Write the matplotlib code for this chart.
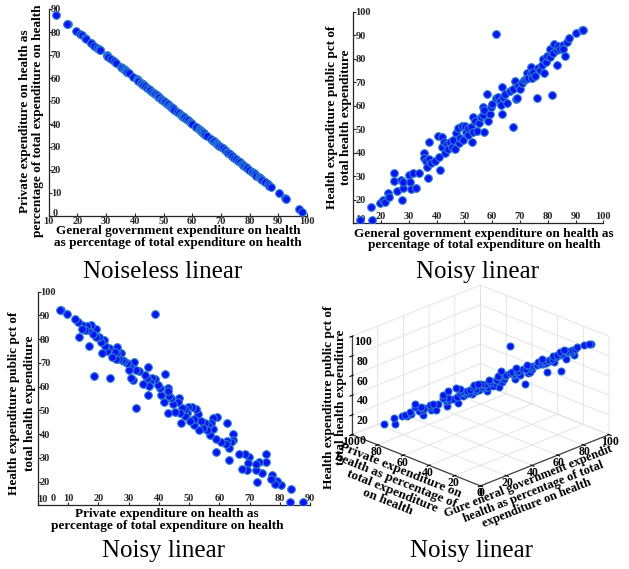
import matplotlib
matplotlib.use("Agg")
import matplotlib.pyplot as plt
from matplotlib.transforms import ScaledTranslation

# government / public health spending per country (percent of total)
gov = [12.4, 16.6, 16.4, 19.6, 20.8, 21.5, 22.6, 23.0, 24.6, 24.6,
       25.9, 27.0, 27.5, 27.8, 28.0, 30.2, 30.4, 30.8, 31.6, 32.6,
       33.5, 35.3, 35.6, 36.2, 36.7, 36.8, 37.3, 37.3, 37.9, 39.4,
       40.6, 41.0, 41.2, 42.1, 42.0, 42.7, 43.0, 43.6, 44.2, 44.8,
       45.4, 46.0, 46.6, 47.0, 47.6, 48.2, 48.4, 49.0, 49.6, 50.2,
       50.6, 51.2, 51.4, 52.3, 52.6, 53.0, 53.2, 53.8, 54.7, 55.4,
       56.0, 56.6, 56.8, 57.1, 57.1, 58.0, 58.4, 59.2, 59.5, 60.1,
       61.4, 61.4, 62.2, 62.8, 63.2, 63.5, 63.7, 64.0, 64.6, 65.2,
       66.4, 67.4, 67.6, 68.2, 68.5, 69.1, 69.4, 70.0, 70.6, 71.5,
       72.1, 72.4, 73.0, 73.9, 74.3, 73.9, 74.6, 75.4, 76.0, 76.6,
       77.2, 77.8, 78.2, 78.7, 79.2, 79.9, 80.8, 80.8, 81.4, 81.8,
       82.4, 83.2, 83.5, 83.8, 84.4, 85.4, 85.4, 86.3, 86.8, 87.6,
       90.2, 92.2, 92.8]

private = [87.6, 83.4, 83.6, 80.4, 79.2, 78.5, 77.4, 77.0, 75.4, 75.4,
           74.1, 73.0, 72.5, 72.2, 72.0, 69.8, 69.6, 69.2, 68.4, 67.4,
           66.5, 64.7, 64.4, 63.8, 63.3, 63.2, 62.7, 62.7, 62.1, 60.6,
           59.4, 59.0, 58.8, 57.9, 58.0, 57.3, 57.0, 56.4, 55.8, 55.2,
           54.6, 54.0, 53.4, 53.0, 52.4, 51.8, 51.6, 51.0, 50.4, 49.8,
           49.4, 48.8, 48.6, 47.7, 47.4, 47.0, 46.8, 46.2, 45.3, 44.6,
           44.0, 43.4, 43.2, 42.9, 42.9, 42.0, 41.6, 40.8, 40.5, 39.9,
           38.6, 38.6, 37.8, 37.2, 36.8, 36.5, 36.3, 36.0, 35.4, 34.8,
           33.6, 32.6, 32.4, 31.8, 31.5, 30.9, 30.6, 30.0, 29.4, 28.5,
           27.9, 27.6, 27.0, 26.1, 25.7, 26.1, 25.4, 24.6, 24.0, 23.4,
           22.8, 22.2, 21.8, 21.3, 20.8, 20.1, 19.2, 19.2, 18.6, 18.2,
           17.6, 16.8, 16.5, 16.2, 15.6, 14.6, 14.6, 13.7, 13.2, 12.4,
           9.8, 7.8, 7.2]

public = [11.3, 11.3, 17.0, 18.7, 20.1, 19.0, 22.7, 21.3, 31.5, 28.1,
          23.8, 28.4, 19.9, 25.1, 27.5, 30.5, 27.7, 24.7, 31.5, 25.2,
          31.5, 40.0, 37.6, 36.5, 34.0, 29.1, 44.7, 37.2, 35.7, 36.5,
          47.1, 38.0, 32.6, 46.8, 42.3, 44.7, 39.7, 43.7, 41.8, 44.7,
          42.6, 45.4, 41.8, 48.5, 50.4, 44.0, 46.4, 51.3, 45.4, 51.3,
          48.9, 47.5, 50.4, 51.1, 44.7, 48.9, 55.3, 53.6, 49.4, 52.8,
          55.3, 56.0, 59.3, 48.9, 58.3, 65.2, 53.6, 56.5, 59.6, 60.7,
          90.4, 63.1, 63.8, 62.0, 60.3, 56.7, 68.1, 63.8, 65.0, 61.0,
          66.4, 51.1, 67.0, 70.6, 63.0, 63.5, 68.4, 67.0, 69.8, 70.9,
          71.2, 74.0, 71.6, 74.0, 71.6, 76.6, 74.5, 72.6, 63.5, 76.2,
          75.2, 77.3, 79.7, 74.0, 78.7, 81.1, 80.9, 84.3, 64.5, 82.3,
          86.1, 77.3, 83.7, 85.4, 84.0, 85.8, 84.3, 81.1, 87.2, 88.7,
          90.8, 92.2, 92.2]

# countries with spending shares but no public pct value
gov_all = gov + [97.1, 98.4]
private_all = private + [2.9, 1.6]

titles = ["Noiseless linear", "Noisy linear", "Noisy linear", "Noisy linear"]

plt.rcParams["font.family"] = ["Liberation Serif", "DejaVu Serif"]
plt.rcParams["font.weight"] = "bold"
plt.rcParams["axes.labelweight"] = "bold"
plt.rcParams["grid.color"] = "#e0e0e0"
plt.rcParams["grid.linewidth"] = 0.6

W, H = 629, 569
fig = plt.figure(figsize=(W / 100, H / 100), dpi=100)

FACE = "#0a14f0"
EDGE = "#2a7fd0"
TICK_FS = 7.5
LABEL_FS = 9.5


def px_axes(x0, y0, x1, y1, **kw):
    # axes from pixel box (top-left origin)
    return fig.add_axes([x0 / W, 1 - y1 / H, (x1 - x0) / W, (y1 - y0) / H], **kw)


def nudge(label, dx, dy):
    # shift a tick label by (dx, dy) pixels, y downwards
    label.set_transform(label.get_transform()
                        + ScaledTranslation(dx / 100, -dy / 100, fig.dpi_scale_trans))


def style_2d(ax, xticks, yticks, xlim, ylim, xlab_inside, xlabels=None):
    ax.set_xlim(*xlim)
    ax.set_ylim(*ylim)
    ax.set_xticks(list(xticks))
    if xlabels is not None:
        ax.set_xticklabels(xlabels)
    ax.set_yticks(list(yticks))
    for s in ["top", "right"]:
        ax.spines[s].set_visible(False)
    for s in ["left", "bottom"]:
        ax.spines[s].set_linewidth(0.9)
        ax.spines[s].set_color("#262626")
    ax.tick_params(direction="in", length=2.5, width=0.8, labelsize=TICK_FS,
                   colors="#262626")
    ax.tick_params(axis="y", pad=-1.5)
    for t in ax.get_yticklabels():
        t.set_horizontalalignment("left")
    if xlab_inside:
        ax.tick_params(axis="x", pad=-2)
        for t in ax.get_xticklabels():
            t.set_verticalalignment("bottom")
    else:
        ax.tick_params(axis="x", pad=0.5)


# --- top left: private vs government share ---
ax1 = px_axes(48.7, 9, 307, 216)
ax1.scatter(gov_all, private_all, s=30, c=FACE, edgecolors=EDGE,
            linewidths=0.8, zorder=3)
style_2d(ax1, range(10, 101, 10), range(0, 91, 10), (10, 100), (0, 90), False)
nudge(ax1.get_yticklabels()[0], 2, -3)
ax1.set_xlabel("General government expenditure on health\n"
               "as percentage of total expenditure on health",
               fontsize=LABEL_FS, linespacing=0.95)
ax1.xaxis.set_label_coords(0.5, -0.045)
ax1.set_ylabel("Private expenditure on health as\n"
               "percentage of total expenditure on health",
               fontsize=LABEL_FS, linespacing=1.15)
ax1.yaxis.set_label_coords(-0.018, 0.46)

# --- top right: public pct vs government share ---
ax2 = px_axes(353.3, 11.7, 603.3, 223.3)
ax2.scatter(gov, public, s=30, c=FACE, edgecolors=EDGE,
            linewidths=0.8, zorder=3)
style_2d(ax2, range(10, 101, 10), range(10, 101, 10), (10, 100), (10, 100), True,
         xlabels=[""] + [str(v) for v in range(20, 101, 10)])
nudge(ax2.get_yticklabels()[0], 0, -5)
ax2.set_xlabel("General government expenditure on health as\n"
               "percentage of total expenditure on health",
               fontsize=LABEL_FS, linespacing=0.95)
ax2.xaxis.set_label_coords(0.524, -0.02)
ax2.set_ylabel("Health expenditure public pct of\n"
               "total health expenditure",
               fontsize=LABEL_FS, linespacing=1.2)
ax2.yaxis.set_label_coords(-0.006, 0.5)

# --- bottom left: public pct vs private share ---
ax3 = px_axes(37.8, 291.7, 310, 505.4)
ax3.scatter(private, public, s=30, c=FACE, edgecolors=EDGE,
            linewidths=0.8, zorder=3)
style_2d(ax3, range(0, 91, 10), range(10, 101, 10), (0, 90), (10, 100), True)
nudge(ax3.get_xticklabels()[0], 15, 0)
nudge(ax3.get_yticklabels()[0], -3, -7)
ax3.set_xlabel("Private expenditure on health as\n"
               "percentage of total expenditure on health",
               fontsize=LABEL_FS, linespacing=0.95)
ax3.xaxis.set_label_coords(0.475, -0.014)
ax3.set_ylabel("Health expenditure public pct of\n"
               "total health expenditure",
               fontsize=LABEL_FS, linespacing=1.45)
ax3.yaxis.set_label_coords(-0.007, 0.48)

# --- bottom right: 3d view of all three ---
ax4 = px_axes(325, 259, 629, 519, projection="3d", proj_type="ortho")
ax4.scatter(gov, private, public, s=26, c=FACE, edgecolors=EDGE,
            linewidths=0.7, depthshade=False)
ax4.set_xlim(0, 100)
ax4.set_ylim(0, 100)
ax4.set_zlim(0, 100)
ax4.set_xticks(range(0, 101, 20))
ax4.set_yticks(range(0, 101, 20))
ax4.set_zticks(range(0, 101, 20))
ax4.view_init(elev=23.5, azim=-135)
ax4.set_box_aspect((1, 1, 0.59), zoom=1.04)
for axis in (ax4.xaxis, ax4.yaxis, ax4.zaxis):
    axis.set_pane_color((1, 1, 1, 0))
    axis.pane.set_edgecolor("#e0e0e0")
    axis.line.set_color("#404040")
    axis.line.set_linewidth(0.9)
ax4.tick_params(labelsize=8.5)
ax4.xaxis.set_tick_params(pad=-7)
ax4.yaxis.set_tick_params(pad=-7)
ax4.zaxis.set_tick_params(pad=-12)
ax4.set_ylabel("Private expenditure on\n"
               "health as percentage of\n"
               "total expenditure\n"
               "on health", fontsize=LABEL_FS, linespacing=0.95,
               labelpad=-4)
# government and public pct labels, placed by hand next to their edges
fig.text(533 / W, 1 - 492 / H,
         "Gure eneral government expendit\n"
         "health as percentage of total\n"
         "expenditure on health",
         rotation=21.5, rotation_mode="anchor", ha="center", va="center",
         fontsize=9.0, linespacing=0.95)
fig.text(335 / W, 1 - 397 / H,
         "Health expenditure public pct of\n"
         "total health expenditure",
         rotation=90, rotation_mode="anchor", ha="center", va="center",
         fontsize=LABEL_FS, linespacing=1.0)

# panel captions
for (cx, by), t in zip([(163, 278), (477, 278), (163, 557), (472, 557)], titles):
    fig.text(cx / W, 1 - by / H, t, ha="center", va="baseline",
             fontsize=18, fontweight="normal")

fig.savefig("out.png", dpi=100)
